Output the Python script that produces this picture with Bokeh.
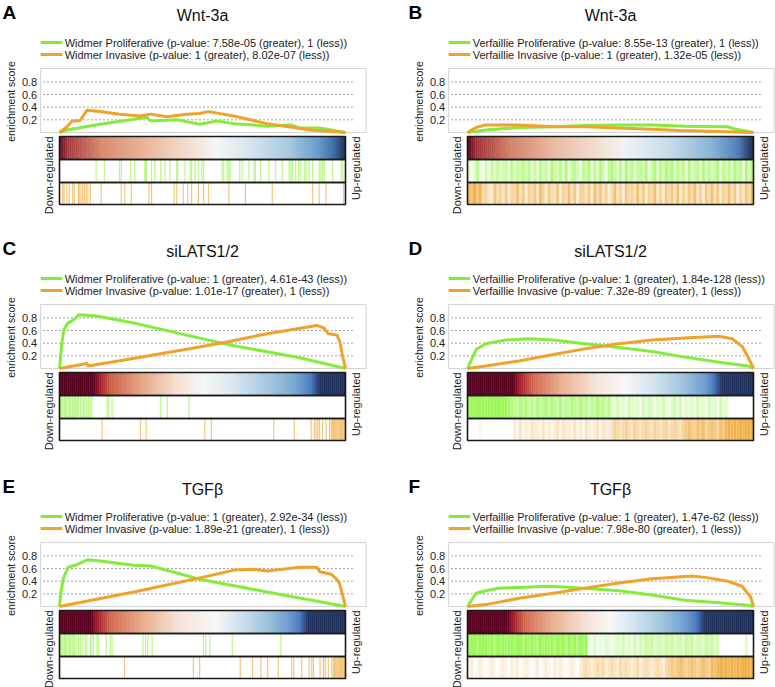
import math
from bokeh.plotting import figure
from bokeh.layouts import column, row
from bokeh.models import Range1d
from bokeh.embed import file_html
from bokeh.resources import INLINE
from bokeh.core.properties import value

# ---------------- data ----------------
LETTERS = ["A", "B", "C", "D", "E", "F"]
TITLES = ["Wnt-3a", "Wnt-3a", "siLATS1/2", "siLATS1/2", "TGFβ", "TGFβ"]
LEG_GREEN = [
    "Widmer Proliferative (p-value: 7.58e-05 (greater), 1 (less))",
    "Verfaillie Proliferative (p-value: 8.55e-13 (greater), 1 (less))",
    "Widmer Proliferative (p-value: 1 (greater), 4.61e-43 (less))",
    "Verfaillie Proliferative (p-value: 1 (greater), 1.84e-128 (less))",
    "Widmer Proliferative (p-value: 1 (greater), 2.92e-34 (less))",
    "Verfaillie Proliferative (p-value: 1 (greater), 1.47e-62 (less))",
]
LEG_ORANGE = [
    "Widmer Invasive (p-value: 1 (greater), 8.02e-07 (less))",
    "Verfaillie Invasive (p-value: 1 (greater), 1.32e-05 (less))",
    "Widmer Invasive (p-value: 1.01e-17 (greater), 1 (less))",
    "Verfaillie Invasive (p-value: 7.32e-89 (greater), 1 (less))",
    "Widmer Invasive (p-value: 1.89e-21 (greater), 1 (less))",
    "Verfaillie Invasive (p-value: 7.98e-80 (greater), 1 (less))",
]
TICKS = [0.2, 0.4, 0.6, 0.8]
TICK_LABELS = ["0.2", "0.4", "0.6", "0.8"]
Y_LABEL = "enrichment score"
DOWN_LABEL = "Down-regulated"
UP_LABEL = "Up-regulated"

A_GREEN_X = [0, 0.026, 0.142, 0.26, 0.305, 0.32, 0.41, 0.445, 0.49, 0.55, 0.61, 0.68, 0.725, 0.81, 0.84, 0.91, 0.96, 1.0]
A_GREEN_Y = [0, 0.04, 0.13, 0.21, 0.24, 0.18, 0.2, 0.17, 0.13, 0.18, 0.14, 0.12, 0.1, 0.12, 0.07, 0.07, 0.03, 0]
A_ORANGE_X = [0, 0.026, 0.043, 0.072, 0.096, 0.142, 0.21, 0.28, 0.32, 0.375, 0.445, 0.49, 0.52, 0.61, 0.725, 0.82, 0.877, 1.0]
A_ORANGE_Y = [0, 0.09, 0.18, 0.19, 0.35, 0.33, 0.29, 0.26, 0.29, 0.25, 0.29, 0.30, 0.33, 0.26, 0.14, 0.08, 0.04, 0]

B_GREEN_X = [0, 0.064, 0.18, 0.30, 0.41, 0.53, 0.645, 0.76, 0.91, 0.94, 1.0]
B_GREEN_Y = [0, 0.04, 0.08, 0.09, 0.11, 0.12, 0.12, 0.10, 0.09, 0.05, 0]
B_ORANGE_X = [0, 0.03, 0.064, 0.18, 0.30, 0.41, 0.53, 0.645, 0.74, 0.88, 1.0]
B_ORANGE_Y = [0, 0.08, 0.12, 0.12, 0.09, 0.09, 0.07, 0.05, 0.03, 0.015, 0]

C_GREEN_X = [0, 0.008, 0.016, 0.03, 0.05, 0.067, 0.096, 0.13, 0.26, 0.49, 0.61, 0.84, 1.0]
C_GREEN_Y = [0, 0.4, 0.62, 0.72, 0.77, 0.85, 0.84, 0.83, 0.72, 0.48, 0.36, 0.17, 0]
C_ORANGE_X = [0, 0.096, 0.1, 0.142, 0.247, 0.49, 0.585, 0.726, 0.9, 0.924, 0.94, 0.97, 0.98, 0.99, 1.0]
C_ORANGE_Y = [0, 0.08, 0.04, 0.07, 0.15, 0.34, 0.42, 0.55, 0.68, 0.64, 0.55, 0.53, 0.43, 0.19, 0]

D_GREEN_X = [0, 0.03, 0.064, 0.134, 0.215, 0.30, 0.41, 0.53, 0.645, 0.76, 0.88, 0.98, 1.0]
D_GREEN_Y = [0, 0.30, 0.39, 0.45, 0.47, 0.45, 0.39, 0.33, 0.27, 0.18, 0.10, 0.04, 0]
D_ORANGE_X = [0, 0.064, 0.18, 0.30, 0.41, 0.53, 0.645, 0.76, 0.88, 0.925, 0.96, 0.98, 1.0]
D_ORANGE_Y = [0, 0.04, 0.12, 0.22, 0.31, 0.39, 0.45, 0.48, 0.51, 0.47, 0.35, 0.19, 0]

E_GREEN_X = [0, 0.005, 0.014, 0.03, 0.06, 0.10, 0.142, 0.26, 0.32, 0.49, 0.726, 1.0]
E_GREEN_Y = [0, 0.23, 0.45, 0.62, 0.66, 0.74, 0.72, 0.65, 0.64, 0.43, 0.23, 0]
E_ORANGE_X = [0, 0.26, 0.49, 0.61, 0.68, 0.726, 0.84, 0.90, 0.91, 0.95, 0.97, 0.98, 1.0]
E_ORANGE_Y = [0, 0.23, 0.45, 0.575, 0.59, 0.56, 0.62, 0.62, 0.55, 0.51, 0.43, 0.35, 0]

F_GREEN_X = [0, 0.03, 0.064, 0.11, 0.18, 0.285, 0.366, 0.53, 0.645, 0.76, 0.88, 0.98, 1.0]
F_GREEN_Y = [0, 0.21, 0.25, 0.29, 0.30, 0.32, 0.30, 0.25, 0.18, 0.10, 0.06, 0.02, 0]
F_ORANGE_X = [0, 0.064, 0.18, 0.30, 0.41, 0.53, 0.645, 0.785, 0.83, 0.91, 0.96, 0.99, 1.0]
F_ORANGE_Y = [0, 0.03, 0.13, 0.21, 0.29, 0.37, 0.44, 0.48, 0.46, 0.40, 0.32, 0.15, 0]

# gene-set hit positions (sparse panels)
A_GREEN_HITS = [0.128, 0.157, 0.21, 0.216, 0.249, 0.263, 0.298, 0.302, 0.305, 0.322, 0.333, 0.354, 0.369, 0.386,
                0.41, 0.413, 0.439, 0.457, 0.462, 0.474, 0.486, 0.498, 0.504, 0.568, 0.574, 0.586, 0.592, 0.597,
                0.63, 0.638, 0.662, 0.68, 0.685, 0.703, 0.732, 0.756, 0.779, 0.803, 0.809, 0.815, 0.826, 0.836,
                0.844, 0.856, 0.862, 0.873, 0.885, 0.908, 0.914, 0.92, 0.926, 0.955, 0.985, 0.991]
A_ORANGE_HITS = [0.011, 0.016, 0.026, 0.034, 0.046, 0.052, 0.066, 0.069, 0.075, 0.081, 0.087, 0.093, 0.099, 0.108,
                 0.146, 0.216, 0.228, 0.251, 0.313, 0.322, 0.401, 0.41, 0.433, 0.448, 0.462, 0.486, 0.504, 0.521,
                 0.592, 0.65, 0.744, 0.885, 0.908, 0.932, 0.993]
C_GREEN_HITS = [0.003, 0.008, 0.012, 0.017, 0.021, 0.026, 0.03, 0.035, 0.039, 0.044, 0.048, 0.053, 0.057, 0.062,
                0.066, 0.073, 0.078, 0.084, 0.089, 0.095, 0.101, 0.107, 0.113, 0.166, 0.172, 0.184, 0.353, 0.377, 0.453]
C_ORANGE_HITS = [0.149, 0.283, 0.303, 0.508, 0.531, 0.749, 0.821, 0.88, 0.891, 0.897, 0.903, 0.909, 0.92, 0.932,
                 0.944, 0.95, 0.954, 0.958, 0.962, 0.966, 0.97, 0.974, 0.978, 0.982, 0.986, 0.99, 0.994, 0.998]
E_GREEN_HITS = [0.003, 0.008, 0.012, 0.017, 0.021, 0.026, 0.03, 0.035, 0.039, 0.044, 0.048, 0.053, 0.058, 0.067,
                0.073, 0.082, 0.09, 0.096, 0.108, 0.113, 0.119, 0.131, 0.137, 0.163, 0.178, 0.184, 0.292, 0.301,
                0.309, 0.324, 0.503, 0.511, 0.526, 0.604, 0.774]
E_ORANGE_HITS = [0.227, 0.468, 0.49, 0.632, 0.675, 0.704, 0.728, 0.765, 0.812, 0.819, 0.847, 0.873, 0.882, 0.888,
                 0.911, 0.923, 0.929, 0.94, 0.952, 0.958, 0.962, 0.966, 0.97, 0.974, 0.978, 0.982, 0.986, 0.99,
                 0.994, 0.998]

# hit density per 1% of the ranking (dense panels), 0..9
B_GREEN_DENS = ("3136214253" "5345263546" "4625364527" "5463725641" "6572637416"
                "7536274635" "6472573647" "5736462735" "6273645726" "4637562747")
B_ORANGE_DENS = ("8796845326" "4536254736" "2546375264" "3625473625" "5362746352"
                 "4735264537" "3625473526" "4637253647" "3526473625" "4736253648")
D_GREEN_DENS = ("999999999999998" "76576756475675765746576575646575646"
                "3242314323142431324213424132314231423142310" "0000000")
D_ORANGE_DENS = ("0000100000000000" "2131213221312123132213121321231322"
                 "3543454354345435434534543" "567657675676576" "8989898999")
F_GREEN_DENS = ("999899989798989989979898798989798979897989" "213121321232423142"
                "4354534435453443545344354534" "000000000" "3" "00")
F_ORANGE_DENS = ("1201210121012102120121012012102121012102" "343234342343243432342343234324"
                 "565676567656765" "878989898989999")

# ranked-list colour bar stops (position, colour)
A_GRAD = [(0.0, "#5a0a1e"), (0.03, "#a83a40"), (0.15, "#d48a6e"), (0.3, "#e8b498"), (0.45, "#f3dcd0"),
          (0.55, "#f5f5f5"), (0.65, "#dae6ef"), (0.8, "#a8c8e0"), (0.9, "#6a9cc8"), (0.96, "#3c6aa4"), (1.0, "#1c2850")]
B_GRAD = [(0.0, "#4a0018"), (0.03, "#a03038"), (0.15, "#d08068"), (0.3, "#e8b8a0"), (0.5, "#f5e8e0"),
          (0.55, "#eef2f6"), (0.7, "#c8dcea"), (0.85, "#88b4d4"), (0.95, "#4a7ab0"), (1.0, "#1a2448")]
C_GRAD = [(0.0, "#5a0020"), (0.12, "#5a0020"), (0.14, "#a01828"), (0.18, "#c86048"), (0.28, "#e0a080"),
          (0.4, "#f4dccc"), (0.5, "#f7f7f7"), (0.6, "#dce8f0"), (0.72, "#a8c8e0"), (0.82, "#78a8d0"),
          (0.88, "#4a78c0"), (0.91, "#22335f"), (1.0, "#1f2f5a")]
D_GRAD = [(0.0, "#5a0020"), (0.16, "#5a0020"), (0.18, "#a01828"), (0.23, "#d06850"), (0.33, "#e8b090"),
          (0.45, "#f5e4da"), (0.55, "#f7f7f7"), (0.65, "#d4e4f0"), (0.75, "#a0c4dc"), (0.83, "#6c9ccc"),
          (0.86, "#4a78c0"), (0.89, "#22335f"), (1.0, "#1f2f5a")]
E_GRAD = [(0.0, "#5a0020"), (0.11, "#5a0020"), (0.13, "#a01828"), (0.18, "#d06850"), (0.3, "#e8b090"),
          (0.42, "#f5e4da"), (0.55, "#f7f7f7"), (0.62, "#d4e4f0"), (0.72, "#a0c4dc"), (0.8, "#6c9ccc"),
          (0.84, "#4a78c0"), (0.87, "#22335f"), (1.0, "#1f2f5a")]
F_GRAD = [(0.0, "#5a0020"), (0.14, "#5a0020"), (0.16, "#a01828"), (0.2, "#d06850"), (0.3, "#e8b090"),
          (0.42, "#f5e4da"), (0.5, "#f7f7f7"), (0.58, "#d4e4f0"), (0.68, "#a0c4dc"), (0.76, "#6c9ccc"),
          (0.8, "#4a78c0"), (0.83, "#22335f"), (1.0, "#1f2f5a")]

# ---------------- style ----------------
FONT = "Liberation Sans"
GREEN = "#84ec3c"
ORANGE = "#f0a22a"
STRIP_GREEN = "#8ef43e"
STRIP_ORANGE = "#eea228"
PXX = 286.0      # px per unit of rank
S = 63.3         # px per unit of enrichment score
R0 = 132         # pixel row (from figure top) of score 0
CB_TOP, CB_BOT = -0.063, -0.427
GR_BOT = -0.79
OR_BOT = -1.137

COLS = [dict(width=406, left_px=59), dict(width=369, left_px=61)]
ROW_H = [236, 238, 213]


def y_of(r):
    return (R0 - r) / S


def hex2rgb(h):
    h = h.lstrip("#")
    return tuple(int(h[i:i + 2], 16) for i in (0, 2, 4))


def interp_color(stops, t):
    for (p0, c0), (p1, c1) in zip(stops[:-1], stops[1:]):
        if p0 <= t <= p1:
            f = 0 if p1 == p0 else (t - p0) / (p1 - p0)
            a, b = hex2rgb(c0), hex2rgb(c1)
            return "#%02x%02x%02x" % tuple(int(round(a[k] + (b[k] - a[k]) * f)) for k in range(3))
    return stops[-1][1]


PANELS = [
    dict(gx=A_GREEN_X, gy=A_GREEN_Y, ox=A_ORANGE_X, oy=A_ORANGE_Y, grad=A_GRAD, gh=A_GREEN_HITS, oh=A_ORANGE_HITS),
    dict(gx=B_GREEN_X, gy=B_GREEN_Y, ox=B_ORANGE_X, oy=B_ORANGE_Y, grad=B_GRAD, gd=B_GREEN_DENS, od=B_ORANGE_DENS),
    dict(gx=C_GREEN_X, gy=C_GREEN_Y, ox=C_ORANGE_X, oy=C_ORANGE_Y, grad=C_GRAD, gh=C_GREEN_HITS, oh=C_ORANGE_HITS),
    dict(gx=D_GREEN_X, gy=D_GREEN_Y, ox=D_ORANGE_X, oy=D_ORANGE_Y, grad=D_GRAD, gd=D_GREEN_DENS, od=D_ORANGE_DENS),
    dict(gx=E_GREEN_X, gy=E_GREEN_Y, ox=E_ORANGE_X, oy=E_ORANGE_Y, grad=E_GRAD, gh=E_GREEN_HITS, oh=E_ORANGE_HITS),
    dict(gx=F_GREEN_X, gy=F_GREEN_Y, ox=F_ORANGE_X, oy=F_ORANGE_Y, grad=F_GRAD, gd=F_GREEN_DENS, od=F_ORANGE_DENS),
]


def draw_hits(p, xs, y0, y1, color):
    p.segment(x0=xs, y0=[y0] * len(xs), x1=xs, y1=[y1] * len(xs),
              line_color=color, line_width=1.2, line_alpha=0.6)


def draw_density(p, dens, y0, y1, color):
    n = len(dens)
    left = [i / n for i in range(n)]
    right = [(i + 1) / n for i in range(n)]
    alpha = [int(c) / 9 * 0.85 for c in dens]
    p.quad(left=left, right=right, bottom=y0, top=y1, fill_color=color,
           fill_alpha=alpha, line_color=None)


def make_panel(i):
    spec = PANELS[i]
    col = COLS[i % 2]
    H = ROW_H[i // 2]
    W = col["width"]
    x0 = -col["left_px"] / PXX
    p = figure(width=W, height=H, output_backend="svg", toolbar_location=None, tools="",
               x_range=Range1d(x0, x0 + W / PXX), y_range=Range1d((R0 - H) / S, R0 / S),
               x_axis_location=None, y_axis_location=None,
               min_border_left=0, min_border_right=0, min_border_top=0, min_border_bottom=0)
    p.outline_line_color = None
    p.grid.visible = False

    # plot box and dotted reference lines
    p.quad(left=[-0.066], right=[1.072], bottom=[0], top=[1.01], fill_color=None,
           line_color="#d4d4d4", line_width=1)
    p.segment(x0=[-0.056] * len(TICKS), x1=[1.035] * len(TICKS), y0=TICKS, y1=TICKS,
              line_color="#444444", line_width=1, line_dash="1 3")
    # y tick labels
    p.text(x=[-0.078] * len(TICKS), y=TICKS, text=TICK_LABELS, text_font=value(FONT),
           text_font_size="11px", text_align="right", text_baseline="middle", text_color="#222222")
    # y axis label
    p.text(x=[-0.17], y=[0.49], text=[Y_LABEL], angle=math.pi / 2, text_font=value(FONT),
           text_font_size="10.5px", text_align="center", text_baseline="middle", text_color="#222222")

    # running enrichment score curves
    p.line(spec["gx"], spec["gy"], line_color=GREEN, line_width=3, line_join="round")
    p.line(spec["ox"], spec["oy"], line_color=ORANGE, line_width=3, line_join="round")

    # ranked-list colour bar
    n = 143
    lefts = [k / n for k in range(n)]
    rights = [(k + 1) / n for k in range(n)]
    cols = [interp_color(spec["grad"], (k + 0.5) / n) for k in range(n)]
    p.quad(left=lefts, right=rights, bottom=CB_BOT, top=CB_TOP, fill_color=cols, line_color=cols, line_width=0.5)

    # barcode strips
    if "gh" in spec:
        draw_hits(p, spec["gh"], CB_BOT, GR_BOT, STRIP_GREEN)
        draw_hits(p, spec["oh"], GR_BOT, OR_BOT, STRIP_ORANGE)
    else:
        draw_density(p, spec["gd"], CB_BOT, GR_BOT, STRIP_GREEN)
        draw_density(p, spec["od"], GR_BOT, OR_BOT, STRIP_ORANGE)
    p.quad(left=[0, 0, 0], right=[1, 1, 1], bottom=[CB_BOT, GR_BOT, OR_BOT], top=[CB_TOP, CB_BOT, GR_BOT],
           fill_color=None, line_color="#1a1a1a", line_width=1.6)

    # letter and title
    p.text(x=[x0 + 2 / PXX], y=[y_of(12)], text=[LETTERS[i]], text_font=value(FONT), text_font_size="19px",
           text_font_style="bold", text_align="left", text_baseline="middle", text_color="#000000")
    p.text(x=[0.5], y=[y_of(15)], text=[TITLES[i]], text_font=value(FONT), text_font_size="16px",
           text_align="center", text_baseline="middle", text_color="#111111")
    # legend
    ly = [y_of(42), y_of(54)]
    p.segment(x0=[-0.066, -0.066], x1=[0.01, 0.01], y0=ly, y1=ly, line_color=[GREEN, ORANGE], line_width=3)
    p.text(x=[0.018, 0.018], y=ly, text=[LEG_GREEN[i], LEG_ORANGE[i]], text_font=value(FONT),
           text_font_size="11px", text_align="left", text_baseline="middle", text_color="#222222")
    # side labels
    p.text(x=[-0.038], y=[CB_TOP], text=[DOWN_LABEL], angle=math.pi / 2, text_font=value(FONT),
           text_font_size="11px", text_align="right", text_baseline="middle", text_color="#222222")
    p.text(x=[1.035], y=[CB_TOP], text=[UP_LABEL], angle=math.pi / 2, text_font=value(FONT),
           text_font_size="11px", text_align="right", text_baseline="middle", text_color="#222222")
    return p


panels = [make_panel(i) for i in range(6)]
layout = column(row(panels[0], panels[1]), row(panels[2], panels[3]), row(panels[4], panels[5]))

open("out.html", "w").write(file_html(layout, INLINE))
